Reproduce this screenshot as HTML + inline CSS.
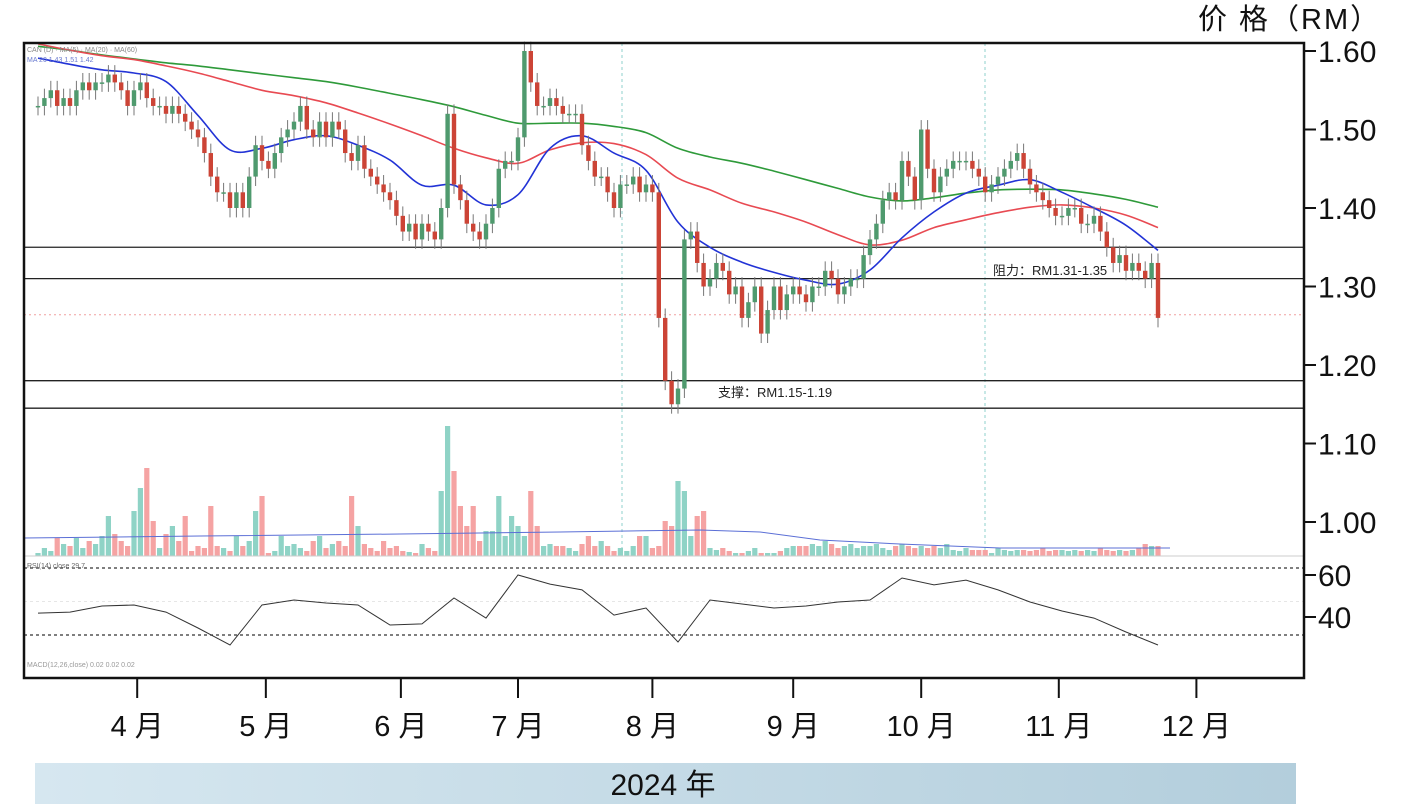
<!DOCTYPE html>
<html><head><meta charset="utf-8">
<style>
html,body{margin:0;padding:0;background:#fff;}
body{width:1422px;height:804px;overflow:hidden;font-family:"Liberation Sans","Noto Sans CJK SC",sans-serif;}
svg{display:block}
</style></head>
<body>
<svg id="chart" width="1422" height="804" viewBox="0 0 1422 804" xmlns="http://www.w3.org/2000/svg">
<defs>
<linearGradient id="band" x1="0" x2="1" y1="0" y2="0"><stop offset="0" stop-color="#d6e7f0"/><stop offset="1" stop-color="#b3cedc"/></linearGradient>
</defs>
<g id="layer"></g>
</svg>
<script>
const closes=[1.53,1.54,1.55,1.53,1.54, 1.53,1.55,1.56,1.55,1.56, 1.56,1.57,1.56,1.55,1.53, 1.55,1.56,1.54,1.53,1.53,
1.52,1.53,1.52,1.51,1.50, 1.49,1.47,1.44,1.42,1.42, 1.40,1.42,1.40,1.44,1.48, 1.46,1.45,1.47,1.49,1.50,
1.51,1.53,1.50,1.49,1.51, 1.49,1.51,1.50,1.47,1.46, 1.48,1.45,1.44,1.43,1.42, 1.41,1.39,1.37,1.38,1.36,
1.38,1.37,1.36,1.40,1.52, 1.43,1.41,1.38,1.37,1.36, 1.38,1.40,1.45,1.46,1.46, 1.49,1.60,1.56,1.53,1.53,
1.54,1.53,1.52,1.52,1.52, 1.48,1.46,1.44,1.44,1.42, 1.40,1.43,1.43,1.44,1.42, 1.43,1.42,1.26,1.18,1.15,
1.17,1.36,1.37,1.33,1.30, 1.31,1.33,1.32,1.29,1.30, 1.26,1.28,1.30,1.24,1.27, 1.30,1.27,1.29,1.30,1.29,
1.28,1.30,1.30,1.32,1.31, 1.29,1.30,1.31,1.31,1.34, 1.36,1.38,1.41,1.42,1.41, 1.46,1.44,1.41,1.50,1.45,
1.42,1.44,1.45,1.46,1.46, 1.46,1.45,1.44,1.42,1.43, 1.44,1.45,1.46,1.47,1.45, 1.43,1.42,1.41,1.40,1.39,
1.39,1.40,1.40,1.38,1.38, 1.39,1.37,1.35,1.33,1.34, 1.32,1.33,1.32,1.31,1.33, 1.26];
const volumes=[3,8,5,18,12, 10,18,8,15,12, 20,40,22,15,10, 45,68,88,35,8, 22,30,15,40,5, 10,8,50,10,8,
5,20,10,15,45, 60,3,5,20,10, 12,8,5,15,20, 8,12,15,10,60, 30,12,8,5,15, 8,10,5,4,3,
12,8,5,65,130, 85,50,30,50,15, 25,25,60,20,40, 30,20,65,30,10, 12,10,10,8,5, 12,20,10,15,10,
5,8,5,10,20, 20,8,10,35,30, 75,65,20,40,45, 8,6,8,5,3, 3,5,8,3,3, 3,5,8,10,10,
10,12,10,15,12, 8,10,12,8,10, 10,12,8,6,10, 12,10,8,10,8, 10,8,12,6,5, 8,6,6,6,3,
8,6,5,6,6, 5,6,8,5,6, 6,5,6,5,6, 5,8,6,5,6, 5,6,8,12,10, 10];
const maSlow=[1.606,1.601,1.595,1.590,1.585,1.581,1.576,1.571,1.566,1.561,1.554,1.546,1.538,1.529,1.518,1.508,1.508,1.508,1.504,1.496,1.476,1.465,1.457,1.447,1.436,1.425,1.414,1.409,1.413,1.419,1.423,1.424,1.423,1.418,1.411,1.401];
const maMid=[1.609,1.601,1.594,1.589,1.581,1.572,1.561,1.550,1.543,1.534,1.521,1.507,1.492,1.476,1.464,1.457,1.474,1.483,1.482,1.468,1.438,1.423,1.406,1.395,1.382,1.366,1.353,1.359,1.375,1.385,1.394,1.401,1.404,1.400,1.391,1.375];
const maFast=[1.591,1.583,1.576,1.572,1.561,1.518,1.474,1.476,1.487,1.492,1.480,1.461,1.429,1.429,1.404,1.417,1.476,1.492,1.470,1.448,1.382,1.350,1.331,1.318,1.308,1.303,1.321,1.362,1.395,1.419,1.429,1.436,1.420,1.400,1.378,1.346];
const rsi=[43.1,43.7,47.3,47.9,43.7,34.2,24.0,47.9,50.9,49.1,47.9,36.0,36.6,52.1,40.1,65.8,60.4,56.9,41.9,46.1,25.8,50.9,48.5,46.1,47.3,49.7,50.9,64.0,59.9,62.8,56.9,49.7,44.3,40.1,31.8,24.0];
const priceTicks=["1.60","1.50","1.40","1.30","1.20","1.10","1.00"];
const priceTickVals=[1.60,1.50,1.40,1.30,1.20,1.10,1.00];
const levels=[1.35,1.31,1.18,1.145];
const months=["4 月","5 月","6 月","7 月","8 月","9 月","10 月","11 月","12 月"];
const monthIdx=[15.5,35.6,56.7,75,96,118,138,159.5,181];

const NS="http://www.w3.org/2000/svg";
const L=document.getElementById('layer');
function mk(tag,attrs,parent){const e=document.createElementNS(NS,tag);for(const k in attrs)e.setAttribute(k,attrs[k]);(parent||L).appendChild(e);return e;}
const X0=24,X1=1304,Y0=43,Y1=678;
const xs=i=>38+6.4*i;
const yp=p=>51+(1.60-p)*785;
const yv=v=>556-v;
const yr=v=>568+(70-v)*1.675;
function smooth(pts){
  let d='M'+pts[0][0].toFixed(1)+','+pts[0][1].toFixed(1);
  for(let i=0;i<pts.length-1;i++){
    const p0=pts[Math.max(0,i-1)],p1=pts[i],p2=pts[i+1],p3=pts[Math.min(pts.length-1,i+2)];
    const c1x=p1[0]+(p2[0]-p0[0])/6,c1y=p1[1]+(p2[1]-p0[1])/6;
    const c2x=p2[0]-(p3[0]-p1[0])/6,c2y=p2[1]-(p3[1]-p1[1])/6;
    d+=' C'+c1x.toFixed(1)+','+c1y.toFixed(1)+' '+c2x.toFixed(1)+','+c2y.toFixed(1)+' '+p2[0].toFixed(1)+','+p2[1].toFixed(1);
  }
  return d;
}

let g;
g=mk('line',{x1:622,x2:622,y1:Y0,y2:556,stroke:'#8fd0cc','stroke-dasharray':'3,3','stroke-width':1});


g=mk('line',{x1:985,x2:985,y1:Y0,y2:556,stroke:'#8fd0cc','stroke-dasharray':'3,3','stroke-width':1});


g=mk('line',{x1:X0,x2:X1,y1:yp(1.264),y2:yp(1.264),stroke:'#f0a0a0','stroke-dasharray':'2,3','stroke-width':1});



volumes.forEach((v,i)=>{
  const up=closes[i]>=(i?closes[i-1]:closes[i]);
  const r=mk('rect',{x:xs(i)-2.6,y:yv(v),width:5.2,height:v,fill:up?'#8fd3c6':'#f5a3a3'});
  
  
});
g=mk('path',{d:'M24,538 L200,536 L400,534 L560,532 L700,530 L760,532 L820,540 L900,544 L1000,548 L1170,548',fill:'none',stroke:'#5b6fd6','stroke-width':1});



levels.forEach(lv=>{
  const l=mk('line',{x1:X0,x2:X1,y1:yp(lv),y2:yp(lv),stroke:'#222','stroke-width':1.3});
  
  
});

function maPath(arr,color,name){
  const pts=arr.map((v,k)=>[xs(k*5),yp(v)]);
  const p=mk('path',{d:smooth(pts),fill:'none',stroke:color,'stroke-width':1.6});
  
  
}
maPath(maSlow,'#2e9a3a','ma-slow-line');
maPath(maMid,'#e84a52','ma-mid-line');
maPath(maFast,'#2233d6','ma-fast-line');

closes.forEach((c,i)=>{
  const o=i?closes[i-1]:c;
  const up=c>=o;
  const col=up?'#4f9a6e':'#cc4436';
  const hi=Math.max(o,c)+0.012, lo=Math.min(o,c)-0.012;
  const w=mk('line',{x1:xs(i),x2:xs(i),y1:yp(hi),y2:yp(lo),stroke:'#777','stroke-width':1});
  
  
  const top=yp(Math.max(o,c)),h=Math.max(1.5,Math.abs(yp(o)-yp(c)));
  const b=mk('rect',{x:xs(i)-2.2,y:top,width:4.4,height:h,fill:col});
  
  
});

g=mk('line',{x1:X0,x2:X1,y1:556,y2:556,stroke:'#ccc','stroke-width':1});


[70,30].forEach(v=>{
  const l=mk('line',{x1:X0,x2:X1,y1:yr(v),y2:yr(v),stroke:'#333','stroke-dasharray':'3,3','stroke-width':1.2});
  
  
});
g=mk('line',{x1:X0,x2:X1,y1:yr(50),y2:yr(50),stroke:'#e6e6e6','stroke-dasharray':'3,3','stroke-width':1});


g=mk('path',{d:rsi.map((v,k)=>(k?'L':'M')+xs(k*5).toFixed(1)+','+yr(v).toFixed(1)).join(' '),fill:'none',stroke:'#333','stroke-width':1});



function txt(x,y,s,attrs,name,inter){const t=mk('text',Object.assign({x:x,y:y},attrs));t.textContent=s;return t;}
txt(27,52,'CAN (D) · MA(5) · MA(20) · MA(60)',{'font-size':7,fill:'#888'},'price-legend');
txt(27,62,'MA 20 1.43  1.51  1.42',{'font-size':7,fill:'#6a7bd0'},'ma-legend');
txt(27,568,'RSI(14) close 29.7',{'font-size':7,fill:'#666'},'rsi-legend');
txt(27,667,'MACD(12,26,close) 0.02 0.02 0.02',{'font-size':7,fill:'#999'},'macd-legend');

txt(993,275,'阻力：RM1.31-1.35',{'font-size':13,fill:'#222'},'resistance-label');
txt(718,397,'支撑：RM1.15-1.19',{'font-size':13,fill:'#222'},'support-label');

g=mk('rect',{x:X0,y:Y0,width:X1-X0,height:Y1-Y0,fill:'none',stroke:'#111','stroke-width':2.5});



priceTicks.forEach((s,k)=>{
  const y=yp(priceTickVals[k]);
  const t=mk('line',{x1:X1,x2:X1+12,y1:y,y2:y,stroke:'#111','stroke-width':2});
  
  
  txt(X1+14,y+11,s,{'font-size':30,fill:'#111'},'price-tick-label');
});
[[60,575],[40,617]].forEach(a=>{
  const t=mk('line',{x1:X1,x2:X1+12,y1:a[1],y2:a[1],stroke:'#111','stroke-width':2});
  
  
  txt(X1+14,a[1]+11,String(a[0]),{'font-size':30,fill:'#111'},'rsi-tick-label');
});
txt(1198,29,'价 格（RM）',{'font-size':29,fill:'#111','letter-spacing':2},'price-axis-title');

months.forEach((m,k)=>{
  const x=xs(monthIdx[k]);
  const t=mk('line',{x1:x,x2:x,y1:Y1,y2:Y1+20,stroke:'#111','stroke-width':2});
  
  
  txt(x,736,m,{'font-size':29,fill:'#111','text-anchor':'middle'},'month-label');
});

g=mk('rect',{x:35,y:763,width:1261,height:41,fill:'url(#band)'});


txt(663,795,'2024 年',{'font-size':30,fill:'#111','text-anchor':'middle'},'year-label');
</script>
</body></html>
